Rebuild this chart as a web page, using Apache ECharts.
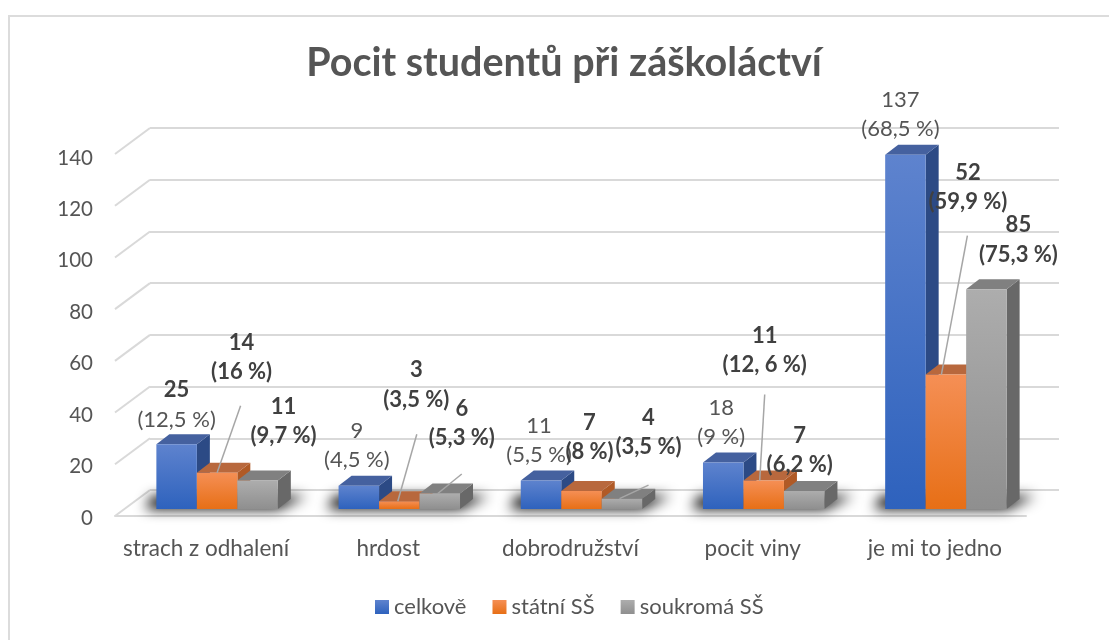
<!DOCTYPE html>
<html><head><meta charset="utf-8">
<style>html,body{margin:0;padding:0;background:#fff}#c{width:1109px;height:640px}</style>
<script src="https://cdn.jsdelivr.net/npm/echarts@6/dist/echarts.min.js"></script>
</head><body><div id="c"></div>
<script>
const categories = ['strach z odhalení','hrdost','dobrodružství','pocit viny','je mi to jedno'];
const seriesNames = ['celkově','státní SŠ','soukromá SŠ'];
const celkove = [25,9,11,18,137];
const statni = [14,3,7,11,52];
const soukroma = [11,6,4,7,85];
const celkovePct = ['(12,5 %)','(4,5 %)','(5,5 %)','(9 %)','(68,5 %)'];
const statniPct = ['(16 %)','(3,5 %)','(8 %)','(12, 6 %)','(59,9 %)'];
const soukromaPct = ['(9,7 %)','(5,3 %)','(3,5 %)','(6,2 %)','(75,3 %)'];
const yTicks = [0,20,40,60,80,100,120,140];

// label placement relative to the top of each bar [dx, dy]
const celkoveLabelOffset = [[0,-54],[-2,-55],[-2,-55],[-2,-55],[-5,-55]];
const statniLabelOffset = [[24.5,-130],[17,-131],[8,-68],[1,-145],[22,-202]];
const soukromaLabelOffset = [[26,-74],[22,-85],[26.5,-81],[-4.5,-55],[32,-64]];
// leader lines relative to the top of each bar [x1,y1,x2,y2]
const statniLeader = [[23.5,-67,0,0],[17.5,-67,-1.5,0],null,[1,-86,-4,0],[21.5,-139,-4.5,0]];
const soukromaLeader = [null,[22,-19.5,-2,0],[26.5,-13.5,-2.5,0],null,null];

const TEXT = '#555555', GRID = '#d9d9d9', FONT = 'Lato';
const DEPTH_DX = 13, DEPTH_DY = 10, WALL_DX = 35, WALL_DY = 26;
const BAR_SHIFT_X = 11, BAR_SHIFT_Y = -7, BAR_RATIO = 0.2222;
const SHADOW_FAR = 3000;

function vg(a,b){return {type:'linear',x:0,y:0,x2:0,y2:1,colorStops:[{offset:0,color:a},{offset:1,color:b}]};}
const palette = [
 {front:vg('#5e83ce','#2e62bd'),top:'#45619f',side:'#2c4a85'},
 {front:vg('#f58f55','#e76f16'),top:'#b8683d',side:'#b05a26'},
 {front:vg('#adadad','#8f8f8f'),top:'#808080',side:'#686868'}
];
const values = [celkove,statni,soukroma];
const pcts = [celkovePct,statniPct,soukromaPct];
const offsets = [celkoveLabelOffset,statniLabelOffset,soukromaLabelOffset];
const leaders = [null,statniLeader,soukromaLeader];

function barGeom(api,cat,val,s){
  const band = api.size([1,0])[0], w = band*BAR_RATIO;
  const base = api.coord([cat,0]), top = api.coord([cat,val]);
  const x = base[0]+BAR_SHIFT_X-w*1.5+w*s;
  return {x,w,yTop:top[1]+BAR_SHIFT_Y,yBase:base[1]+BAR_SHIFT_Y};
}
function barSeries(s){
  return {type:'custom',name:seriesNames[s],xAxisIndex:0,yAxisIndex:0,z:3,
    itemStyle:{color:palette[s].front},
    data:values[s].map((v,i)=>[i,v]),
    renderItem(p,api){
      const g=barGeom(api,api.value(0),api.value(1),s),c=palette[s];
      const R=g.x+g.w,T=g.yTop,B=g.yBase;
      return {type:'group',children:[
        {type:'polygon',shape:{points:[[R,T],[R+DEPTH_DX,T-DEPTH_DY],[R+DEPTH_DX,B-DEPTH_DY],[R,B]]},style:{fill:c.side}},
        {type:'polygon',shape:{points:[[g.x,T],[g.x+DEPTH_DX,T-DEPTH_DY],[R+DEPTH_DX,T-DEPTH_DY],[R,T]]},style:{fill:c.top}},
        {type:'rect',shape:{x:g.x,y:T,width:g.w,height:B-T},style:{fill:c.front}}
      ]};
    }};
}
function labelSeries(s){
  return {type:'custom',xAxisIndex:0,yAxisIndex:0,z:6,silent:true,
    data:values[s].map((v,i)=>[i,v]),
    renderItem(p,api){
      const i=api.value(0),g=barGeom(api,i,api.value(1),s);
      const cx=g.x+g.w/2,off=offsets[s][i],ch=[];
      const bold=s!==0;
      const font=(bold?'bold':'normal')+' 22px '+FONT,color=bold?'#404040':TEXT;
      // the first value of the first series has a bold number in the source
      const headBold=bold||i===0;
      const headFont=(headBold?'bold':'normal')+' 22px '+FONT,headColor=headBold?'#404040':TEXT;
      const ln=leaders[s]&&leaders[s][i];
      if(ln)ch.push({type:'line',shape:{x1:cx+ln[0],y1:g.yTop+ln[1],x2:cx+ln[2],y2:g.yTop+ln[3]},style:{stroke:'#a6a6a6',lineWidth:1.5}});
      ch.push({type:'text',style:{x:cx+off[0],y:g.yTop+off[1],text:String(api.value(1)),font:headFont,fill:headColor,align:'center',verticalAlign:'middle'}});
      ch.push({type:'text',style:{x:cx+off[0],y:g.yTop+off[1]+29.5,text:pcts[s][i],font,fill:color,align:'center',verticalAlign:'middle'}});
      return {type:'group',children:ch};
    }};
}
const shadowSeries = {type:'custom',xAxisIndex:0,yAxisIndex:0,z:2,silent:true,
  data:categories.map((c,i)=>[i,0]),
  renderItem(p,api){
    const g0=barGeom(api,api.value(0),0,0),g2=barGeom(api,api.value(0),0,2);
    const L=g0.x,R=g2.x+g2.w,B=g0.yBase;
    const X=-SHADOW_FAR;
    return {type:'polygon',shape:{points:[[X+L-11,B],[X+R,B],[X+R+29,B-13],[X+L-4,B-13]]},
      style:{fill:'#000',shadowBlur:13,shadowColor:'rgba(0,0,0,1)',shadowOffsetX:SHADOW_FAR}};
  }};
const wallSeries = {type:'custom',xAxisIndex:0,yAxisIndex:0,z:1,silent:true,
  data:yTicks.map(v=>[0,v]),
  renderItem(p,api){
    const y=api.coord([0,api.value(1)])[1],x=p.coordSys.x;
    return {type:'line',shape:{x1:x,y1:y,x2:x+WALL_DX,y2:y-WALL_DY},style:{stroke:GRID,lineWidth:2}};
  }};

const chart = echarts.init(document.getElementById('c'),null,{renderer:'canvas'});
chart.setOption({
  animation:false,
  backgroundColor:'#ffffff',
  title:{text:'Pocit studentů při záškoláctví',left:559,top:38,textAlign:'center',
    textStyle:{color:TEXT,fontFamily:FONT,fontWeight:'bold',fontSize:39.5}},
  legend:{data:seriesNames,left:370,top:591,itemWidth:14,itemHeight:14,itemGap:26,icon:'rect',
    textStyle:{color:TEXT,fontFamily:FONT,fontSize:22}},
  grid:[
    {left:115,top:154,width:911,height:362},
    {left:150,top:128,width:909,height:362},
    {left:115,top:158,width:911,height:360}
  ],
  xAxis:[
    {type:'category',gridIndex:0,data:categories,
      axisLine:{lineStyle:{color:GRID,width:2}},axisTick:{show:false},
      axisLabel:{color:TEXT,fontFamily:FONT,fontSize:22.5,margin:21,interval:0}},
    {type:'category',gridIndex:1,data:categories,show:false},
    {type:'category',gridIndex:2,data:categories,show:false}
  ],
  yAxis:[
    {type:'value',gridIndex:0,min:0,max:140,interval:20,
      axisLine:{show:false},axisTick:{show:false},splitLine:{show:false},axisLabel:{show:false}},
    {type:'value',gridIndex:1,min:0,max:140,interval:20,
      axisLine:{show:false},axisTick:{show:false},axisLabel:{show:false},
      splitLine:{show:true,lineStyle:{color:GRID,width:2}}},
    {type:'value',gridIndex:2,min:0,max:140,interval:20,
      axisLine:{show:false},axisTick:{show:false},splitLine:{show:false},
      axisLabel:{color:TEXT,fontFamily:FONT,fontSize:20.5,margin:22}}
  ],
  graphic:[{type:'polyline',silent:true,shape:{points:[[9,640],[9,16],[1109,16]]},style:{fill:'none',stroke:'#dcdcdc',lineWidth:2}}],
  series:[wallSeries,shadowSeries,barSeries(0),barSeries(1),barSeries(2),labelSeries(0),labelSeries(1),labelSeries(2)]
});
</script></body></html>
